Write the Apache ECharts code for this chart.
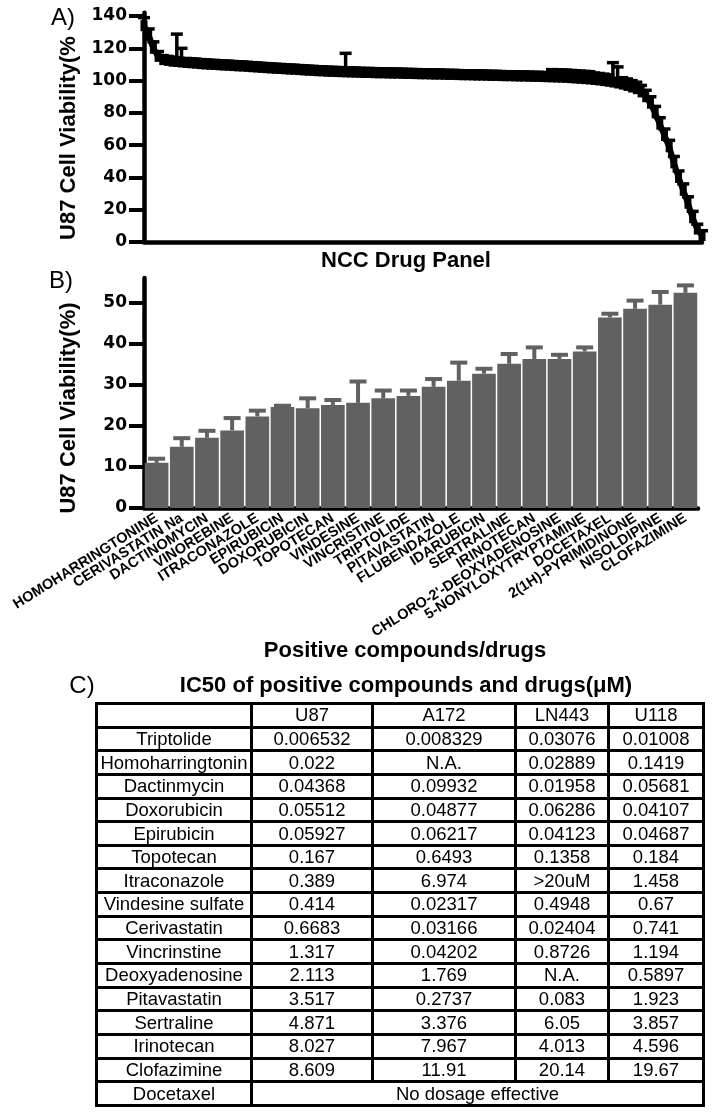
<!DOCTYPE html>
<html><head><meta charset="utf-8">
<script src="https://cdn.jsdelivr.net/npm/echarts@6/dist/echarts.min.js"></script>
<style>
html,body{margin:0;padding:0;background:#fff;}
#chart{position:absolute;left:0;top:0;width:713px;height:1119px;}
#ic50{position:absolute;left:95px;top:702px;width:610px;border-collapse:collapse;table-layout:fixed;font-family:'Liberation Sans',Arial,sans-serif;font-size:18.5px;color:#000;}
#ic50 td{border:3px solid #000;padding:0;height:20.65px;line-height:20px;text-align:center;white-space:nowrap;overflow:hidden;}
</style></head>
<body>
<div id="chart"></div>
<table id="ic50"><colgroup><col style="width:155px"><col style="width:121px"><col style="width:143px"><col style="width:93px"><col style="width:95px"></colgroup><tbody id="tb"></tbody></table>
<script>
// ---------- Panel A: NCC drug panel (sorted viability, %) ----------
const valuesA = [
 134,128,120,115,113,112.5,112,111.8,111.5,111.2,
 111,110.8,110.5,110.3,110.1,110,109.8,109.6,109.5,109.3,
 109.1,109,108.8,108.6,108.4,108.2,108,107.8,107.6,107.5,
 107.3,107.1,107,106.8,106.6,106.4,106.3,106.1,106,105.8,
 105.7,105.6,105.5,105.4,105.3,105.2,105.1,105,105,104.9,
 104.8,104.8,104.7,104.6,104.6,104.5,104.4,104.4,104.3,104.2,
 104.2,104.1,104,104,103.9,103.8,103.8,103.7,103.6,103.6,
 103.5,103.4,103.4,103.3,103.2,103.2,103.1,103,103,102.9,
 102.8,102.8,102.7,102.6,102.6,102.5,102.4,102.3,102.2,102.1,
 102,101.8,101.6,101.4,101.2,101,100.7,100.4,100,99.6,
 99.1,98.5,97.8,97,96,95,93,90,86,80,
 73,66,59,49,40,32,24,15,8,4
];
const errA = [
 5,4,4,3,2.5,2.5,2.5,17,8.5,2.5,
 2.5,2.5,2.5,2.5,2.5,2.5,2.5,2.5,2.5,2.5,
 2.5,2.5,2.5,2.5,2.5,2.5,2.5,2.5,2.5,2.5,
 2.5,2.5,2.5,2.5,2.5,2.5,2.5,2.5,2.5,2.5,
 2.5,2.5,2.5,11.5,2.5,2.5,2.5,2.5,2.5,2.5,
 2.5,2.5,2.5,2.5,2.5,2.5,2.5,2.5,2.5,2.5,
 2.5,2.5,2.5,2.5,2.5,2.5,2.5,2.5,2.5,2.5,
 2.5,2.5,2.5,2.5,2.5,2.5,2.5,2.5,2.5,2.5,
 2.5,2.5,2.5,2.5,2.5,2.5,2.5,4.5,4.5,4.5,
 4.5,4.5,4.5,4.5,4.5,4.5,4,4,4,4,
 12,10,4,4,4,4,4,4,4,4,
 4,4,4,4,4,4,4,4,3,3
];
const ticksA = [0,20,40,60,80,100,120,140];

// ---------- Panel B: positive compounds ----------
const catsB = ['HOMOHARRINGTONINE','CERIVASTATIN Na','DACTINOMYCIN','VINOREBINE','ITRACONAZOLE','EPIRUBICIN','DOXORUBICIN','TOPOTECAN','VINDESINE','VINCRISTINE','TRIPTOLIDE','PITAVASTATIN','FLUBENDAZOLE','IDARUBICIN','SERTRALINE','IRINOTECAN',"CHLORO-2'-DEOXYADENOSINE",'5-NONYLOXYTRYPTAMINE','DOCETAXEL','2(1H)-PYRIMIDINONE','NISOLDIPINE','CLOFAZIMINE'];
const valuesB = [11.0,14.9,17.1,18.9,22.3,24.6,24.3,25.1,25.6,26.7,27.3,29.5,31.0,32.7,35.1,36.3,36.3,38.1,46.4,48.5,49.5,52.4];
const errB = [1.0,2.1,1.7,3.0,1.4,0.3,2.4,1.2,5.2,1.9,1.3,1.9,4.4,1.2,2.4,2.8,1.0,1.0,0.9,2.0,3.1,1.8];
const ticksB = [0,10,20,30,40,50];

// ---------- Panel C: IC50 table ----------
const tableCols = ['U87','A172','LN443','U118'];
const tableRows = ['Triptolide','Homoharringtonin','Dactinmycin','Doxorubicin','Epirubicin','Topotecan','Itraconazole','Vindesine sulfate','Cerivastatin','Vincrinstine','Deoxyadenosine','Pitavastatin','Sertraline','Irinotecan','Clofazimine'];
const icU87 = ['0.006532','0.022','0.04368','0.05512','0.05927','0.167','0.389','0.414','0.6683','1.317','2.113','3.517','4.871','8.027','8.609'];
const icA172 = ['0.008329','N.A.','0.09932','0.04877','0.06217','0.6493','6.974','0.02317','0.03166','0.04202','1.769','0.2737','3.376','7.967','11.91'];
const icLN443 = ['0.03076','0.02889','0.01958','0.06286','0.04123','0.1358','>20uM','0.4948','0.02404','0.8726','N.A.','0.083','6.05','4.013','20.14'];
const icU118 = ['0.01008','0.1419','0.05681','0.04107','0.04687','0.184','1.458','0.67','0.741','1.194','0.5897','1.923','3.857','4.596','19.67'];
const lastRowName = 'Docetaxel';
const lastRowText = 'No dosage effective';

// build table
(function(){
  const tb = document.getElementById('tb');
  function addRow(cells, span){
    const tr = document.createElement('tr');
    cells.forEach((c, k) => {
      const td = document.createElement('td');
      td.textContent = c;
      if (span && k === 1) td.colSpan = 4;
      tr.appendChild(td);
    });
    tb.appendChild(tr);
  }
  addRow([''].concat(tableCols));
  tableRows.forEach((r, i) => addRow([r, icU87[i], icA172[i], icLN443[i], icU118[i]]));
  addRow([lastRowName, lastRowText], true);
})();

const chart = echarts.init(document.getElementById('chart'), null, {renderer:'canvas'});
const catsA = valuesA.map((_, i) => String(i + 1));
const numFont = {fontFamily:'DejaVu Sans', fontWeight:'bold', fontSize:17, color:'#000'};
const boldFont = 'Liberation Sans';

function errRender(color, capW, lw){
  return function(params, api){
    const x = api.value(0), v = api.value(1), e = api.value(2);
    const top = api.coord([x, v + e]);
    const bot = api.coord([x, v]);
    const st = {stroke: color, lineWidth: lw};
    return {type:'group', children:[
      {type:'line', shape:{x1:top[0], y1:top[1], x2:bot[0], y2:bot[1]}, style:st},
      {type:'line', shape:{x1:top[0]-capW/2, y1:top[1], x2:top[0]+capW/2, y2:top[1]}, style:st}
    ]};
  };
}

const option = {
  animation:false,
  backgroundColor:'#fff',
  grid:[
    {left:144, right:11, top:12.8, height:229.2},
    {left:144, right:15, top:278, height:230}
  ],
  xAxis:[
    {gridIndex:0, type:'category', data:catsA, boundaryGap:false,
     axisLine:{lineStyle:{color:'#000', width:4.5}}, axisTick:{show:false}, axisLabel:{show:false}, splitLine:{show:false}},
    {gridIndex:1, type:'category', data:catsB,
     axisLine:{lineStyle:{color:'#000', width:4.5}},
     axisTick:{alignWithLabel:true, length:6, lineStyle:{color:'#000', width:4}},
     axisLabel:{interval:0, rotate:32, margin:9, fontFamily:boldFont, fontWeight:'bold', fontSize:14.5, color:'#000'},
     splitLine:{show:false}}
  ],
  yAxis:[
    {gridIndex:0, type:'value', min:0, max:142,
     axisLine:{show:true, lineStyle:{color:'#000', width:4.5}},
     axisTick:{show:true, length:15, lineStyle:{color:'#000', width:4}, customValues:ticksA},
     axisLabel:Object.assign({customValues:ticksA, margin:17}, numFont),
     splitLine:{show:false}},
    {gridIndex:1, type:'value', min:0, max:56,
     axisLine:{show:true, lineStyle:{color:'#000', width:4.5}},
     axisTick:{show:true, length:15, lineStyle:{color:'#000', width:4}, customValues:ticksB},
     axisLabel:Object.assign({customValues:ticksB, margin:17}, numFont),
     splitLine:{show:false}}
  ],
  series:[
    {type:'custom', xAxisIndex:0, yAxisIndex:0, clip:false, z:3,
     renderItem: errRender('#000', 12, 3.5),
     data: valuesA.map((v, i) => [i, v, errA[i]])},
    {type:'line', xAxisIndex:0, yAxisIndex:0, data:valuesA, symbol:'rect', symbolSize:[7,11], showAllSymbol:true,
     itemStyle:{color:'#000'}, lineStyle:{color:'#000', width:6}, z:4},
    {type:'bar', xAxisIndex:1, yAxisIndex:1, data:valuesB, barCategoryGap:'6%',
     itemStyle:{color:'#616161'}, z:2},
    {type:'custom', xAxisIndex:1, yAxisIndex:1, clip:false, z:3,
     renderItem: errRender('#616161', 17, 4),
     data: valuesB.map((v, i) => [i, v, errB[i]])}
  ],
  graphic:[
    {type:'text', x:63, y:18, style:{text:'A)', font:'24px "Liberation Sans"', fill:'#000', align:'center', verticalAlign:'middle'}},
    {type:'text', x:61, y:281, style:{text:'B)', font:'24px "Liberation Sans"', fill:'#000', align:'center', verticalAlign:'middle'}},
    {type:'text', x:82, y:686, style:{text:'C)', font:'24px "Liberation Sans"', fill:'#000', align:'center', verticalAlign:'middle'}},
    {type:'text', x:69, y:138, rotation:Math.PI/2, style:{text:'U87 Cell Viability(%', font:'bold 22px "Liberation Sans"', fill:'#000', align:'center', verticalAlign:'middle'}},
    {type:'text', x:69, y:408, rotation:Math.PI/2, style:{text:'U87 Cell Viability(%)', font:'bold 22px "Liberation Sans"', fill:'#000', align:'center', verticalAlign:'middle'}},
    {type:'text', x:406, y:261, style:{text:'NCC Drug Panel', font:'bold 22px "Liberation Sans"', fill:'#000', align:'center', verticalAlign:'middle'}},
    {type:'text', x:405, y:651, style:{text:'Positive compounds/drugs', font:'bold 22px "Liberation Sans"', fill:'#000', align:'center', verticalAlign:'middle'}},
    {type:'text', x:406, y:686, style:{text:'IC50 of positive compounds and drugs(μM)', font:'bold 22px "Liberation Sans"', fill:'#000', align:'center', verticalAlign:'middle'}}
  ]
};
chart.setOption(option);
</script>
</body></html>
